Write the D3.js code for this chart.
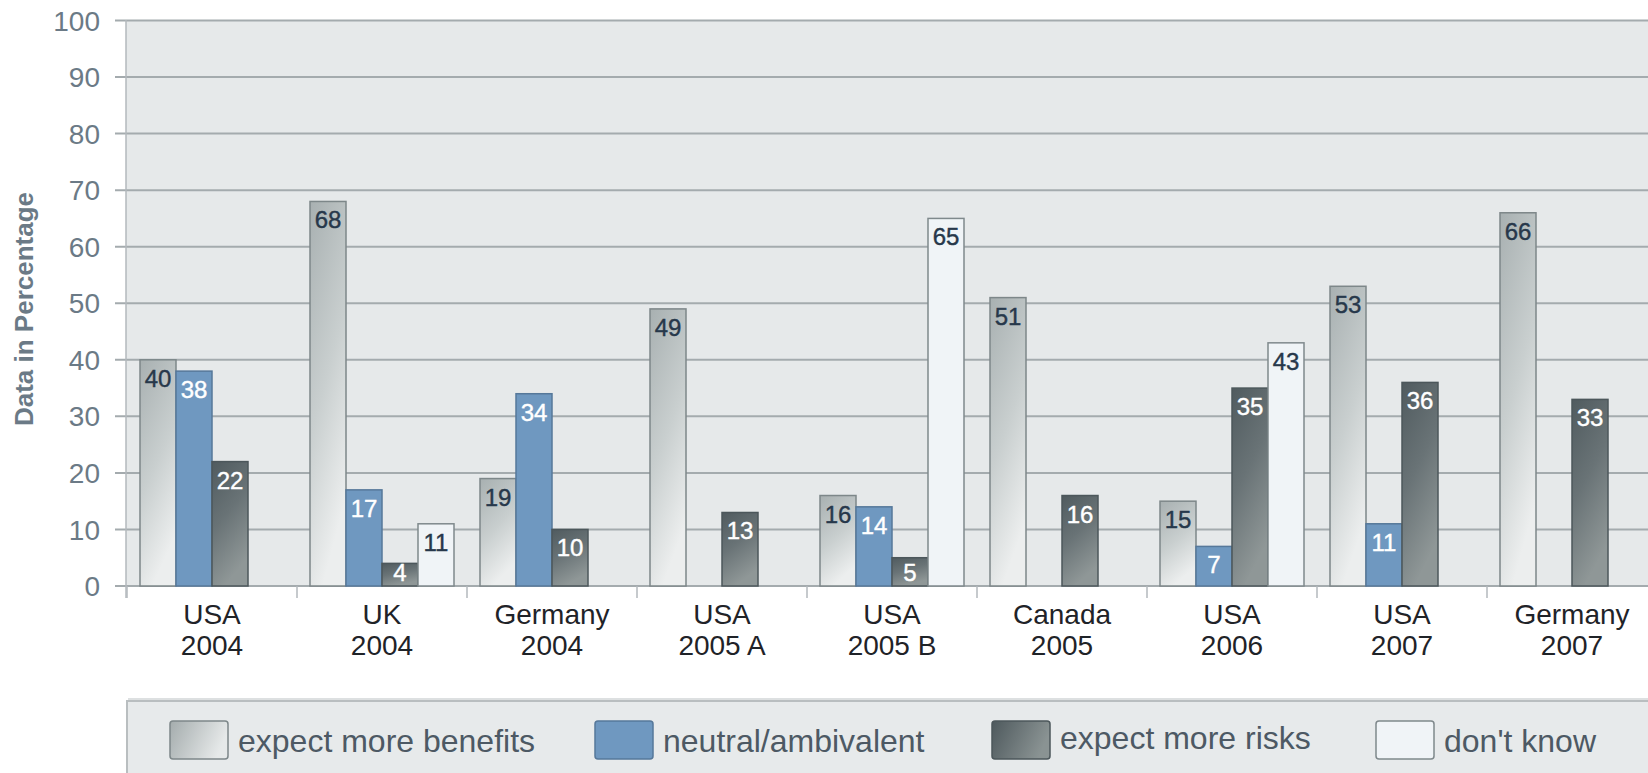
<!DOCTYPE html>
<html>
<head>
<meta charset="utf-8">
<script src="https://cdn.jsdelivr.net/npm/d3@7"></script>
<style>
  html, body { margin: 0; padding: 0; background: #ffffff; }
  svg { display: block; font-family: "Liberation Sans", Arial, Helvetica, sans-serif; }
</style>
</head>
<body>
<svg id="chart" width="1648" height="773"></svg>
<script>
// Survey waves (two-line labels) and the share of answers in each group
const categories = ["USA|2004", "UK|2004", "Germany|2004", "USA|2005 A", "USA|2005 B",
                    "Canada|2005", "USA|2006", "USA|2007", "Germany|2007"];
const seriesNames = ["expect more benefits", "neutral/ambivalent", "expect more risks", "don't know"];
const benefits = [40, 68, 19, 49, 16, 51, 15, 53, 66];
const neutral  = [38, 17, 34, null, 14, null, 7, 11, null];
const risks    = [22, 4, 10, 13, 5, 16, 35, 36, 33];
const dontKnow = [null, 11, null, null, 65, null, 43, null, null];
const yTicks   = [0, 10, 20, 30, 40, 50, 60, 70, 80, 90, 100];

const seriesValues = [benefits, neutral, risks, dontKnow];

const svg = d3.select("#chart");
const W = 1648, H = 773;
const plot = { left: 126, top: 20, bottom: 586 };
const catWidth = 170;

const y = d3.scaleLinear().domain([0, 100]).range([plot.bottom, plot.top + 0.5]);
const x = d3.scaleBand().domain(categories)
  .range([plot.left + 1, plot.left + 1 + catWidth * categories.length]);
const xi = d3.scaleBand().domain(seriesNames).range([13, 157]);

// fills and strokes per series
const style = {
  "expect more benefits": { fill: "url(#gBen)", stroke: "#7d8789", label: "#27384b" },
  "neutral/ambivalent":   { fill: "#6f98c0", stroke: "#56789a", label: "#ffffff" },
  "expect more risks":    { fill: "url(#gRisk)", stroke: "#4c575b", label: "#ffffff" },
  "don't know":           { fill: "#f0f4f7", stroke: "#7f898c", label: "#27384b" }
};

const defs = svg.append("defs");
function grad(id, x2, y2, stops) {
  const g = defs.append("linearGradient").attr("id", id)
    .attr("x1", 0).attr("y1", 0).attr("x2", x2).attr("y2", y2);
  stops.forEach(([o, c]) => g.append("stop").attr("offset", o).attr("stop-color", c));
}
grad("gBen", 0.35, 1, [[0, "#a8b0b1"], [0.55, "#c9cfcf"], [1, "#eceeee"]]);
grad("gRisk", 0.35, 1, [[0, "#505b5f"], [0.5, "#697376"], [1, "#8f9797"]]);
grad("gBenH", 1, 0.3, [[0, "#a4acad"], [1, "#e6e9e9"]]);
grad("gRiskH", 1, 0.3, [[0, "#4e595d"], [1, "#8a9393"]]);

// plot background
svg.append("rect")
  .attr("x", plot.left).attr("y", plot.top)
  .attr("width", W - plot.left).attr("height", plot.bottom - plot.top)
  .attr("fill", "#e6e9ea");

// horizontal gridlines with left tick stubs
svg.append("g").selectAll("line").data(yTicks).join("line")
  .attr("x1", 115).attr("x2", W)
  .attr("y1", d => y(d)).attr("y2", d => y(d))
  .attr("stroke", "#a4abae").attr("stroke-width", 2);

// vertical axis line
svg.append("line")
  .attr("x1", plot.left).attr("x2", plot.left)
  .attr("y1", plot.top).attr("y2", plot.bottom + 12)
  .attr("stroke", "#b3b9bc").attr("stroke-width", 1.5);

// category boundary ticks
svg.append("g").selectAll("line").data(categories).join("line")
  .attr("x1", d => x(d)).attr("x2", d => x(d))
  .attr("y1", plot.bottom).attr("y2", plot.bottom + 12)
  .attr("stroke", "#b3b9bc").attr("stroke-width", 1.5);

// y tick labels
svg.append("g").selectAll("text").data(yTicks).join("text")
  .attr("x", 100).attr("y", d => y(d))
  .attr("dy", "0.36em")
  .attr("text-anchor", "end")
  .attr("font-size", 28)
  .attr("fill", "#6b7a86")
  .text(d => d);

// y axis title
svg.append("text")
  .attr("transform", `translate(33,${(plot.top + plot.bottom) / 2 + 6}) rotate(-90)`)
  .attr("text-anchor", "middle")
  .attr("font-size", 26)
  .attr("font-weight", "bold")
  .attr("fill", "#6b7a86")
  .text("Data in Percentage");

// bars
const barData = [];
categories.forEach((c, ci) => {
  seriesNames.forEach((s, si) => {
    const v = seriesValues[si][ci];
    if (v != null) barData.push({ c, s, v });
  });
});

const bars = svg.append("g");
bars.selectAll("rect").data(barData).join("rect")
  .attr("x", d => x(d.c) + xi(d.s))
  .attr("y", d => y(d.v))
  .attr("width", xi.bandwidth())
  .attr("height", d => y(0) - y(d.v))
  .attr("fill", d => style[d.s].fill)
  .attr("stroke", d => style[d.s].stroke)
  .attr("stroke-width", 1.5);

// value labels inside the top of each bar
bars.selectAll("text").data(barData).join("text")
  .attr("x", d => x(d.c) + xi(d.s) + xi.bandwidth() / 2)
  .attr("y", d => Math.min(y(d.v) + 27, plot.bottom - 5))
  .attr("text-anchor", "middle")
  .attr("font-size", 24)
  .attr("fill", d => style[d.s].label)
  .attr("stroke", d => style[d.s].label)
  .attr("stroke-width", 0.4)
  .text(d => d.v);

// category labels (two lines)
const cat = svg.append("g").selectAll("text").data(categories).join("text")
  .attr("x", d => x(d) + catWidth / 2)
  .attr("y", 624)
  .attr("text-anchor", "middle")
  .attr("font-size", 28)
  .attr("fill", "#1f2328");
cat.selectAll("tspan").data(d => d.split("|")).join("tspan")
  .attr("x", function () { return d3.select(this.parentNode).attr("x"); })
  .attr("dy", (d, i) => i === 0 ? 0 : 31)
  .text(d => d);

// legend
const lg = svg.append("g");
lg.append("rect")
  .attr("x", 127).attr("y", 701)
  .attr("width", W).attr("height", 200)
  .attr("fill", "#e7eaeb")
  .attr("stroke", "#b9bec0").attr("stroke-width", 2);
lg.append("line")
  .attr("x1", 128).attr("x2", W).attr("y1", 699).attr("y2", 699)
  .attr("stroke", "#dde0e1").attr("stroke-width", 2);

const swatchFill = {
  "expect more benefits": "url(#gBenH)",
  "neutral/ambivalent": "#6f98c0",
  "expect more risks": "url(#gRiskH)",
  "don't know": "#f0f4f7"
};
const legendX = [170, 595, 992, 1376];
seriesNames.forEach((s, i) => {
  const lx = legendX[i];
  lg.append("rect")
    .attr("x", lx).attr("y", 721)
    .attr("width", 58).attr("height", 38)
    .attr("rx", 3)
    .attr("fill", swatchFill[s])
    .attr("stroke", style[s].stroke).attr("stroke-width", 1.5);
  lg.append("text")
    .attr("x", lx + 68).attr("y", s === "expect more risks" ? 749 : 752)
    .attr("font-size", 32)
    .attr("fill", "#4d5964")
    .text(s);
});
</script>
</body>
</html>
